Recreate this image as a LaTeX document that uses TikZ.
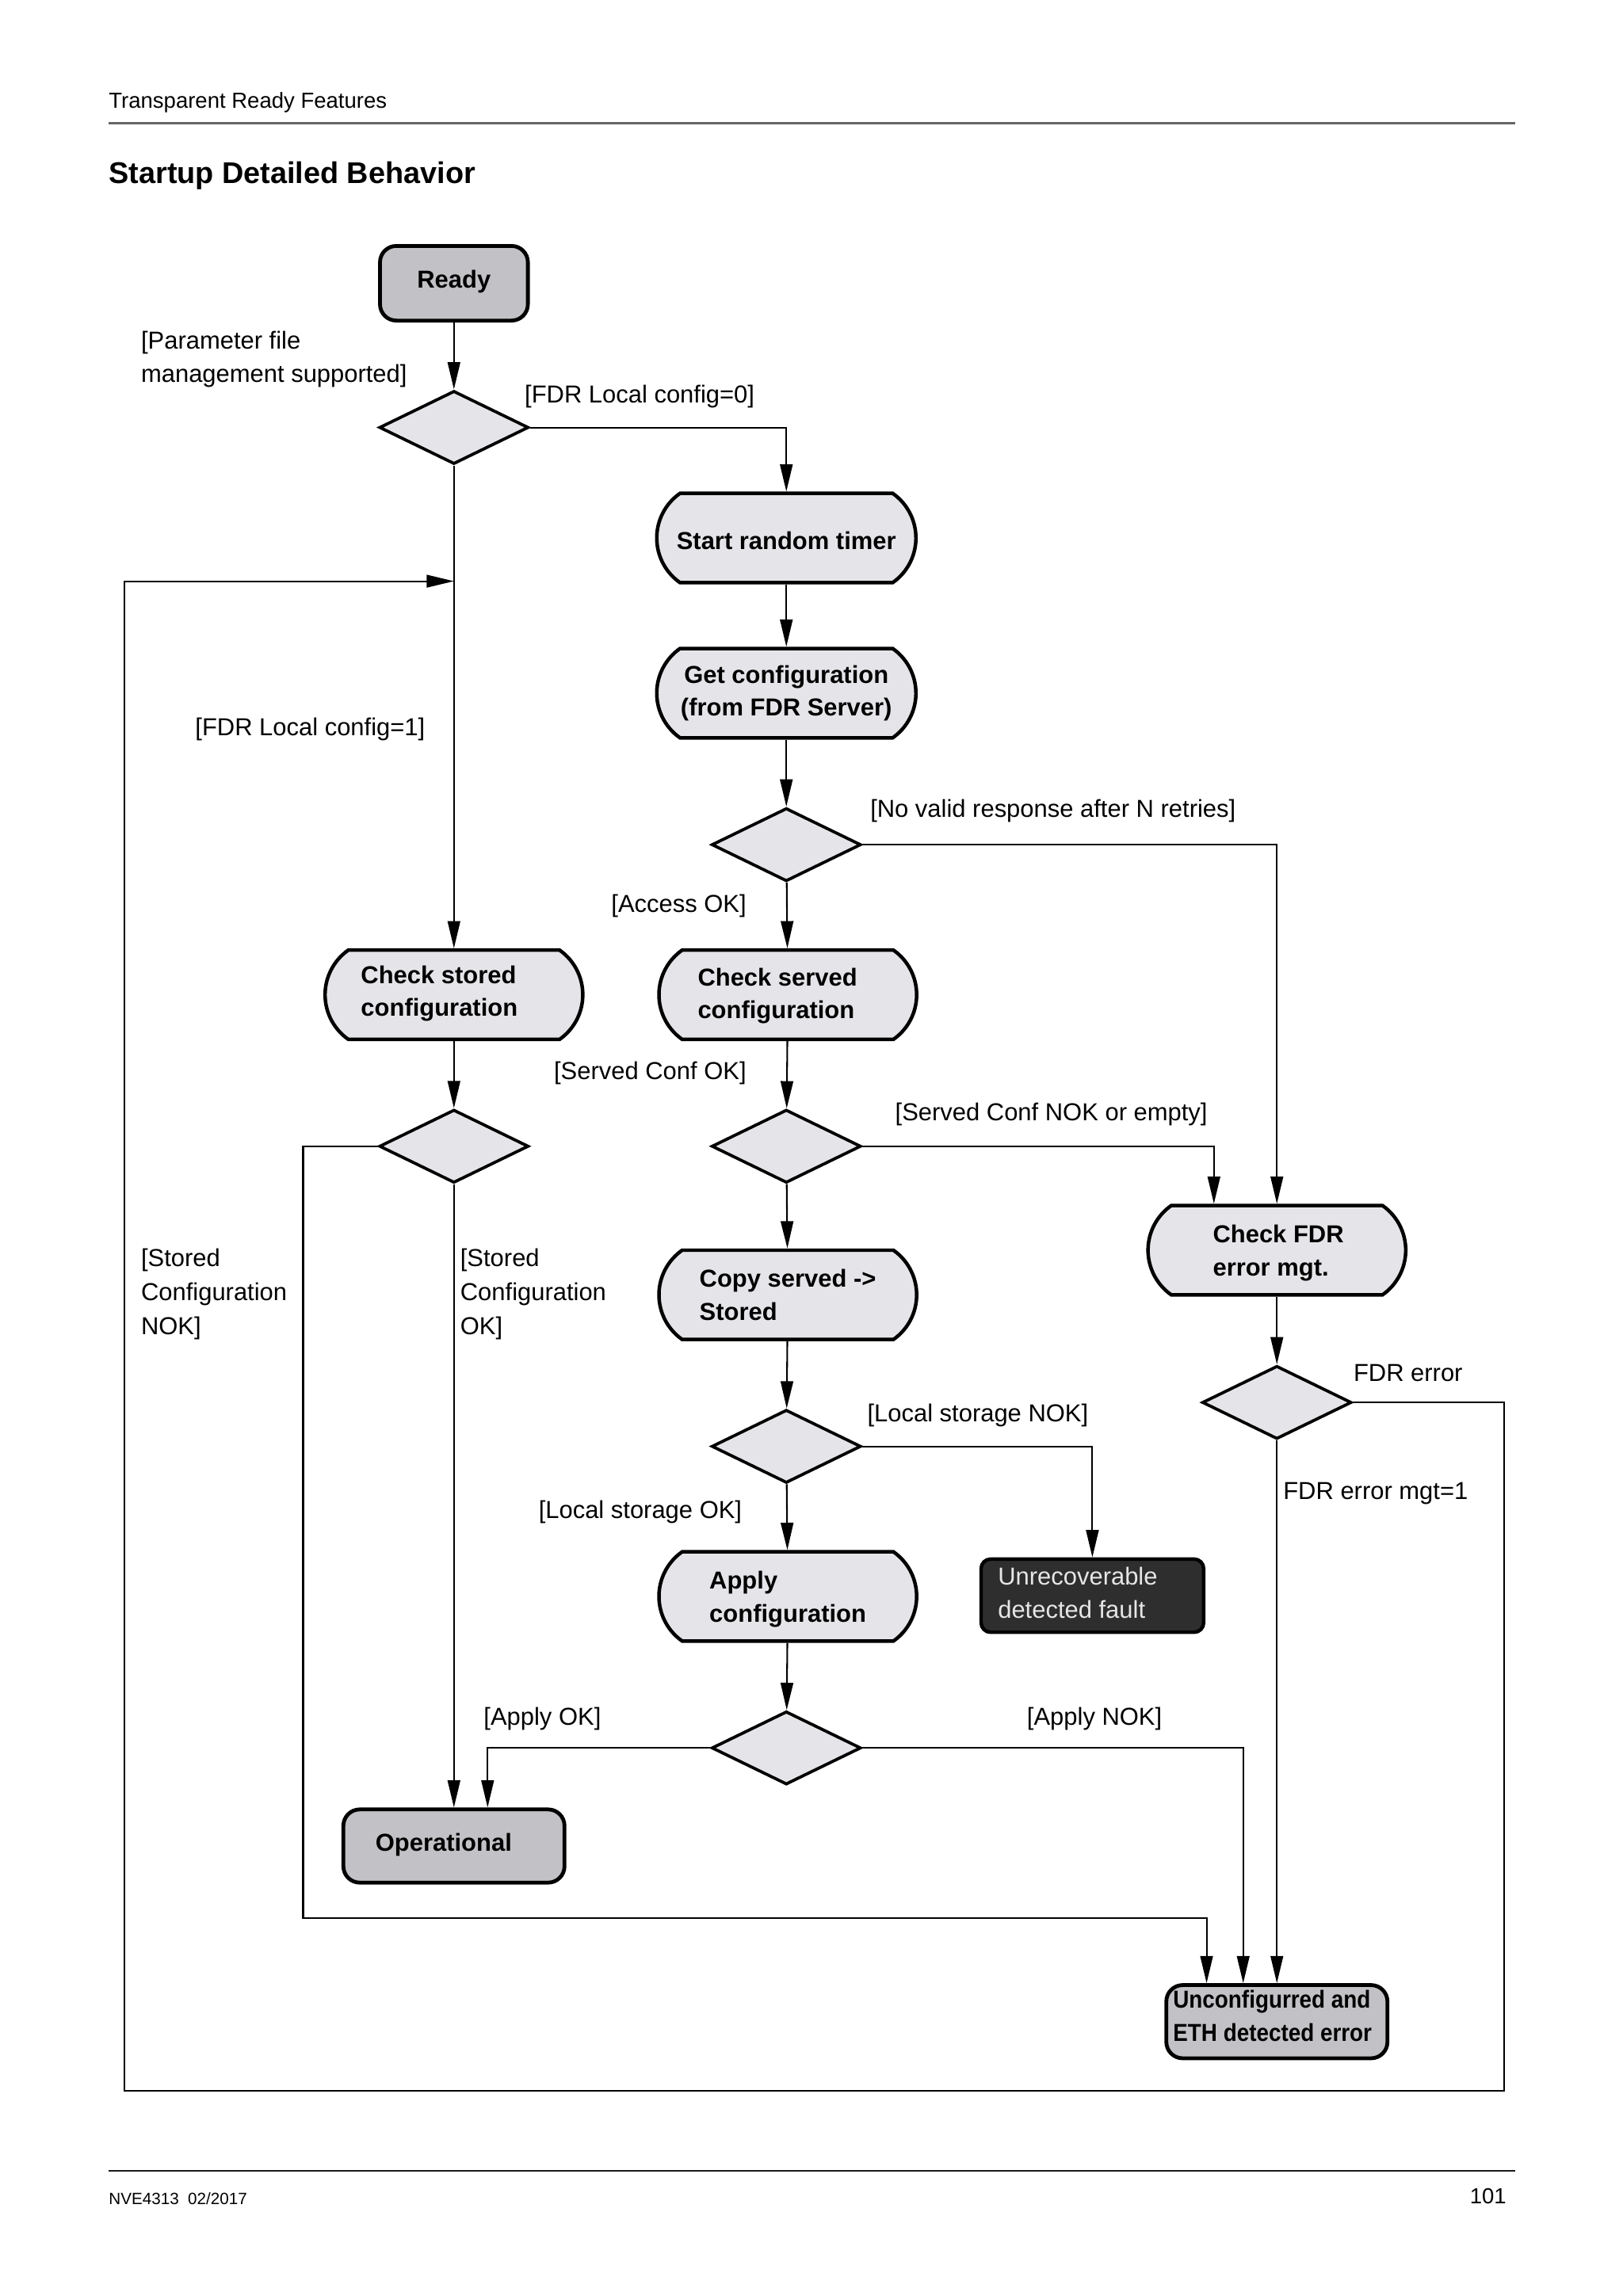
\documentclass[tikz,border=0pt]{standalone}
\usepackage{fontspec}
\setmainfont{Liberation Sans}
\usepackage{graphicx}
\usetikzlibrary{shapes.geometric,shapes.misc,arrows.meta,calc}
\newlength{\unitpx}
\setlength{\unitpx}{0.5373pt}
\definecolor{procfill}{HTML}{E5E4E8}
\definecolor{statefill}{HTML}{C2C1C5}
\definecolor{darkfill}{HTML}{2E2E2E}
\definecolor{darktext}{HTML}{E6E6E6}
\begin{document}
\begin{tikzpicture}[x=0.5373pt,y=-0.5373pt,
  proc/.style={rounded rectangle, rounded rectangle arc length=110, draw=black, line width=1.3pt,
     fill=procfill, minimum width=177\unitpx, minimum height=61\unitpx, inner sep=0pt},
  statebox/.style={rectangle, rounded corners=6pt, draw=black, line width=1.4pt, fill=statefill,
     minimum width=151\unitpx, minimum height=50\unitpx, inner sep=0pt},
  darkbox/.style={rectangle, rounded corners=3.5pt, draw=black, line width=1.3pt, fill=darkfill,
     minimum width=152\unitpx, minimum height=50\unitpx, inner sep=0pt},
  dec/.style={diamond, draw=black, line width=1.1pt, fill=procfill,
     minimum width=102\unitpx, minimum height=50\unitpx, inner sep=0pt},
  btxt/.style={font=\bfseries\fontsize{9}{12}\selectfont, align=left, inner sep=0pt, yshift=-2\unitpx},
  lbl/.style={font=\fontsize{9}{12.4}\selectfont, align=left, inner sep=0pt, yshift=-2\unitpx},
  arr/.style={-{Triangle[length=10pt,width=4.6pt]}, line width=0.6pt, draw=black},
  wire/.style={line width=0.6pt, draw=black}]
\path[fill=white] (0,0) rectangle (1108,1568.4);
\useasboundingbox (0,0) rectangle (1108,1568.4);

% page header / footer
\node[lbl, font=\fontsize{8}{10}\selectfont, anchor=west] (hdr) at (74,68) {Transparent Ready Features};
\coordinate (hrA) at (74,84); \coordinate (hrB) at (1035,84);
\draw[line width=0.9pt, draw=black!60] (hrA) -- (hrB);
\node[lbl, font=\bfseries\fontsize{11}{13}\selectfont, anchor=west] (ttl) at (74,118) {Startup Detailed Behavior};
\coordinate (frA) at (74,1483); \coordinate (frB) at (1035,1483);
\draw[line width=0.7pt, draw=black!90] (frA) -- (frB);
\node[lbl, font=\fontsize{6}{7}\selectfont, anchor=west] (ftl) at (74,1500) {NVE4313\ \ 02/2017};
\node[lbl, font=\fontsize{8}{10}\selectfont, anchor=east] (ftr) at (1029,1498) {101};

% nodes
\node[statebox, minimum width=101\unitpx, minimum height=51\unitpx,
   label={[btxt, yshift=3\unitpx]center:{Ready}}] (ready) at (310,193.5) {};
\node[dec] (d1) at (310,292) {};
\node[proc, label={[btxt]center:{Start random timer}}] (srt) at (537,367.5) {};
\node[proc, label={[btxt, align=center, yshift=2\unitpx]center:{Get configuration\\(from FDR Server)}}] (gcf) at (537,473.5) {};
\node[dec] (d2) at (537,577) {};
\node[proc, minimum width=176\unitpx, label={[btxt, xshift=-10\unitpx, yshift=3\unitpx]center:{Check stored\\configuration}}] (cst) at (310,679.5) {};
\node[proc, minimum width=176\unitpx, label={[btxt, xshift=-7\unitpx, yshift=1\unitpx]center:{Check served\\configuration}}] (csv) at (538,679.5) {};
\node[dec] (d3) at (310,783) {};
\node[dec] (d4) at (537,783) {};
\node[proc, minimum width=176\unitpx, label={[btxt, yshift=2\unitpx]center:{Copy served ->\\Stored}}] (cps) at (538,884.5) {};
\node[proc, minimum width=176\unitpx, label={[btxt, xshift=1\unitpx]center:{Check FDR\\error mgt.}}] (cfdr) at (872,854) {};
\node[dec] (dfdr) at (872,958) {};
\node[dec] (d5) at (537,988) {};
\node[proc, minimum width=176\unitpx, label={[btxt]center:{Apply\\configuration}}] (apc) at (538,1090.5) {};
\node[darkbox, label={[font=\fontsize{9}{12}\selectfont, align=left, inner sep=0pt, text=darktext, xshift=-10\unitpx, yshift=2\unitpx]center:{Unrecoverable\\detected fault}}] (unr) at (746,1090) {};
\node[dec] (d6) at (537,1194) {};
\node[statebox, label={[btxt, xshift=-7\unitpx, yshift=3\unitpx]center:{Operational}}] (opr) at (310,1261) {};
\node[statebox, label={[btxt, xshift=-3\unitpx, yshift=6\unitpx]center:{\scalebox{0.9}[1]{Unconfigurred and}\\\scalebox{0.9}[1]{ETH detected error}}}] (unc) at (872,1381) {};

% helper coordinates
\coordinate (loopA) at (1027,1428);
\coordinate (loopB) at (85,1428);
\coordinate (loopC) at (310,397);
\coordinate (nokL) at (207,1310);
\coordinate (uncA) at ($(unc.north)+(-48,0)$);
\coordinate (uncB) at ($(unc.north)+(-23,0)$);
\coordinate (cfdrA) at ($(cfdr.north)+(-43,0)$);
\coordinate (oprB) at ($(opr.north)+(23,0)$);

% connectors
\draw[arr] (ready) -- (d1);
\draw[arr] (d1.east) -| (srt.north);
\draw[arr] (srt) -- (gcf);
\draw[arr] (gcf) -- (d2);
\draw[arr] (d2.east) -| (cfdr.north);
\draw[arr] (d2) -- (csv);
\draw[arr] (d1) -- (cst);
\draw[arr] (dfdr.east) -| (loopA) -- (loopB) |- (loopC);
\draw[arr] (cst) -- (d3);
\draw[arr] (d3.west) -| (nokL) -| (uncA);
\draw[arr] (d3) -- (opr);
\draw[arr] (csv) -- (d4);
\draw[arr] (d4.east) -| (cfdrA);
\draw[arr] (d4) -- (cps);
\draw[arr] (cfdr) -- (dfdr);
\draw[arr] (dfdr) -- (unc);
\draw[arr] (cps) -- (d5);
\draw[arr] (d5.east) -| (unr.north);
\draw[arr] (d5) -- (apc);
\draw[arr] (apc) -- (d6);
\draw[arr] (d6.west) -| (oprB);
\draw[arr] (d6.east) -| (uncB);

% labels
\node[lbl, anchor=west] (l1) at (96,243.5) {[Parameter file\\management supported]};
\node[lbl, anchor=west] (l2) at (358,269) {[FDR Local config=0]};
\node[lbl, anchor=west] (l3) at (133,496) {[FDR Local config=1]};
\node[lbl, anchor=west] (l4) at (594,552) {[No valid response after N retries]};
\node[lbl, anchor=east] (l5) at (510,617) {[Access OK]};
\node[lbl, anchor=east] (l6) at (510,731) {[Served Conf OK]};
\node[lbl, anchor=west] (l7) at (611,759) {[Served Conf NOK or empty]};
\node[lbl, anchor=west] (l8) at (96,882) {[Stored\\Configuration\\NOK]};
\node[lbl, anchor=west] (l9) at (314,882) {[Stored\\Configuration\\OK]};
\node[lbl, anchor=west] (l10) at (924,936) {FDR error};
\node[lbl, anchor=west] (l11) at (592,965) {[Local storage NOK]};
\node[lbl, anchor=west] (l12) at (876,1018) {FDR error mgt=1};
\node[lbl, anchor=east] (l13) at (507,1031) {[Local storage OK]};
\node[lbl, anchor=west] (l14) at (330,1172) {[Apply OK]};
\node[lbl, anchor=west] (l15) at (701,1172) {[Apply NOK]};
\end{tikzpicture}
\end{document}
